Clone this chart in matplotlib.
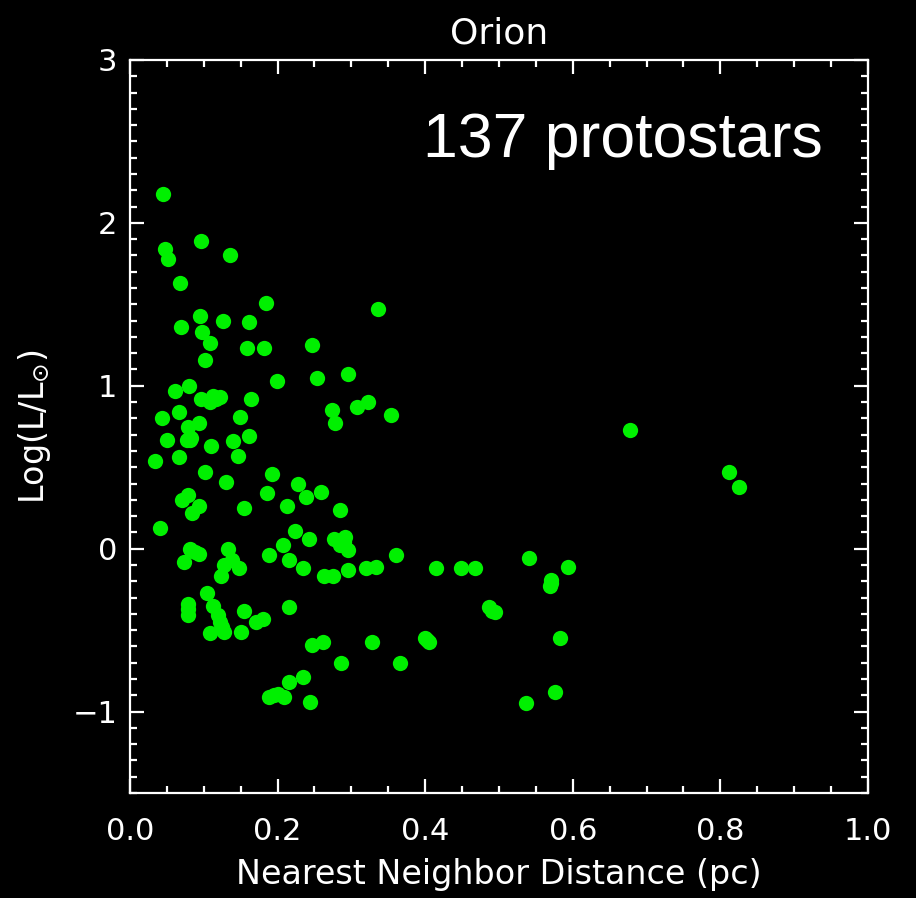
import matplotlib
matplotlib.use('Agg')
from matplotlib import pyplot as plt
from matplotlib.ticker import MultipleLocator

# nearest neighbor distance (pc) and log luminosity for each protostar
nn_dist = [
    0.045, 0.096, 0.047, 0.052, 0.135, 0.068, 0.184, 0.095, 0.126, 0.161,
    0.069, 0.098, 0.109, 0.159, 0.181, 0.102, 0.199, 0.080, 0.061, 0.096,
    0.109, 0.113, 0.122, 0.164, 0.066, 0.044, 0.149, 0.079, 0.094, 0.050,
    0.077, 0.083, 0.110, 0.140, 0.161, 0.034, 0.067, 0.146, 0.102, 0.192,
    0.130, 0.186, 0.070, 0.078, 0.084, 0.093, 0.155, 0.040, 0.207, 0.082,
    0.093, 0.133, 0.189, 0.073, 0.128, 0.148, 0.124, 0.104, 0.079, 0.079,
    0.113, 0.119, 0.122, 0.127, 0.108, 0.155, 0.171, 0.180, 0.150, 0.188,
    0.201, 0.336, 0.247, 0.253, 0.295, 0.274, 0.278, 0.308, 0.322, 0.353,
    0.227, 0.238, 0.259, 0.213, 0.285, 0.224, 0.242, 0.277, 0.292, 0.285,
    0.296, 0.215, 0.234, 0.360, 0.296, 0.320, 0.333, 0.263, 0.275, 0.215,
    0.246, 0.262, 0.328, 0.286, 0.366, 0.215, 0.235, 0.209, 0.244, 0.414,
    0.448, 0.468, 0.540, 0.570, 0.569, 0.593, 0.486, 0.495, 0.400, 0.405,
    0.583, 0.576, 0.537, 0.678, 0.812, 0.825,
    0.138, 0.117, 0.081, 0.290, 0.125, 0.079, 0.570, 0.088, 0.402, 0.490,
    0.195,
]
log_lum = [
    2.18, 1.89, 1.84, 1.78, 1.80, 1.63, 1.51, 1.43, 1.40, 1.39,
    1.36, 1.33, 1.26, 1.23, 1.23, 1.16, 1.03, 1.00, 0.97, 0.92,
    0.90, 0.94, 0.93, 0.92, 0.84, 0.80, 0.81, 0.75, 0.77, 0.67,
    0.67, 0.68, 0.63, 0.66, 0.69, 0.54, 0.56, 0.57, 0.47, 0.46,
    0.41, 0.34, 0.30, 0.33, 0.22, 0.26, 0.25, 0.13, 0.02, 0.00,
    -0.03, 0.00, -0.04, -0.08, -0.10, -0.12, -0.17, -0.27, -0.34, -0.41,
    -0.35, -0.41, -0.45, -0.51, -0.52, -0.38, -0.45, -0.43, -0.51, -0.91,
    -0.89, 1.47, 1.25, 1.05, 1.07, 0.85, 0.77, 0.87, 0.90, 0.82,
    0.40, 0.32, 0.35, 0.26, 0.24, 0.11, 0.06, 0.06, 0.07, 0.02,
    -0.01, -0.07, -0.12, -0.04, -0.13, -0.12, -0.11, -0.17, -0.17, -0.36,
    -0.59, -0.57, -0.57, -0.70, -0.70, -0.82, -0.79, -0.91, -0.94, -0.12,
    -0.12, -0.12, -0.06, -0.19, -0.23, -0.11, -0.36, -0.39, -0.55, -0.57,
    -0.55, -0.88, -0.95, 0.73, 0.47, 0.38,
    -0.07, 0.92, 0.67, 0.04, -0.48, -0.37, -0.21, -0.02, -0.56, -0.38,
    -0.90,
]

region = 'Orion'
count_label = '137 protostars'

plt.rcParams['font.family'] = ['DejaVu Sans']
fig = plt.figure(figsize=(9.16, 8.98), dpi=100, facecolor='black')
ax = fig.add_axes([0.1419, 0.1169, 0.8057, 0.8163], facecolor='black')

ax.plot(nn_dist, log_lum, 'o', color='#00f000', markersize=11,
        markeredgewidth=0, linestyle='none')

ax.set_xlim(0.0, 1.0)
ax.set_ylim(-1.5, 3.0)
ax.xaxis.set_major_locator(MultipleLocator(0.2))
ax.xaxis.set_minor_locator(MultipleLocator(0.05))
ax.yaxis.set_major_locator(MultipleLocator(1))
ax.yaxis.set_minor_locator(MultipleLocator(0.1))
ax.xaxis.set_major_formatter(plt.FuncFormatter(lambda v, p: '%.1f' % v))

for side in ax.spines.values():
    side.set_color('white')
    side.set_linewidth(1.6)
ax.tick_params(which='both', direction='in', colors='white',
               top=True, right=True, width=1.6, labelsize=22)
ax.tick_params(which='major', length=10)
ax.tick_params(which='minor', length=5)
ax.tick_params(axis='x', pad=17)
ax.tick_params(axis='y', pad=9)

ax.set_title(region, color='white', fontsize=26, pad=12)
ax.set_xlabel('Nearest Neighbor Distance (pc)', color='white', fontsize=24,
              labelpad=9)
ax.set_ylabel(r'Log(L/L$_{\odot}$)', color='white', fontsize=24, labelpad=14)

ax.text(0.939, 0.868, count_label, transform=ax.transAxes, ha='right',
        va='baseline', color='white', fontsize=45,
        fontfamily='Liberation Sans')

fig.savefig('out.png', dpi=100, facecolor='black')
